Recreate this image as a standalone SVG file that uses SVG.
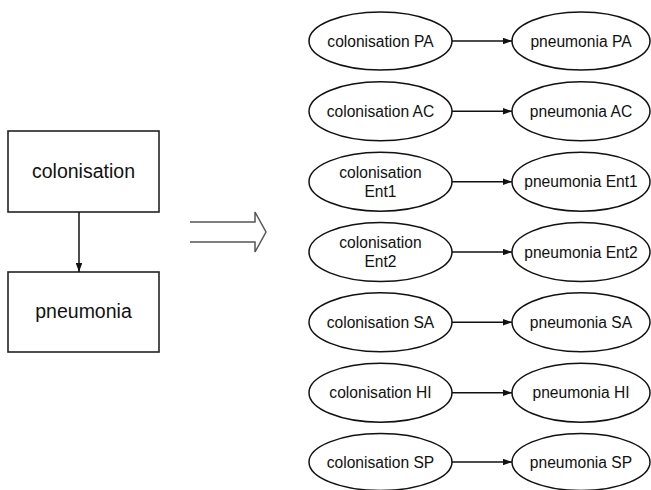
<svg xmlns="http://www.w3.org/2000/svg" width="651" height="490" viewBox="0 0 651 490">
<defs>
<style>
text{font-family:"Liberation Sans",Arial,sans-serif;fill:#111;text-anchor:middle}
.box{fill:#fff;stroke:#222;stroke-width:1.6}
.el{fill:#fff;stroke:#111;stroke-width:1.5}
.big{font-size:19.5px}
.sm{font-size:15.6px}
.con{stroke:#111;stroke-width:1.5;fill:none}
</style>
<marker id="ah" viewBox="0 0 10 10" refX="10" refY="5" markerWidth="9" markerHeight="6.5" markerUnits="userSpaceOnUse" orient="auto" preserveAspectRatio="none">
<path d="M0,0 L10,5 L0,10 Z" fill="#111"/>
</marker>
</defs>
<rect width="651" height="490" fill="#fff"/>
<g id="colonisation">
<rect class="box" x="8" y="131" width="151" height="81"/>
<text class="big" x="83.5" y="178">colonisation</text>
</g>
<g id="pneumonia">
<rect class="box" x="8" y="272" width="151" height="80"/>
<text class="big" x="83.5" y="318">pneumonia</text>
</g>
<g id="implies">
<path d="M190,222 H255 V212 L266,232 L255,252 V242 H190" fill="none" stroke="#555" stroke-width="1.5"/>
</g>
<g id="n-col-PA"><ellipse class="el" cx="380.5" cy="41" rx="71.5" ry="29"/><text class="sm" x="380.5" y="46.5">colonisation PA</text></g>
<g id="n-pne-PA"><ellipse class="el" cx="581" cy="41" rx="69" ry="29"/><text class="sm" x="581" y="46.5">pneumonia PA</text></g>
<g id="n-col-AC"><ellipse class="el" cx="380.5" cy="111.3" rx="71.5" ry="29.5"/><text class="sm" x="380.5" y="116.8">colonisation AC</text></g>
<g id="n-pne-AC"><ellipse class="el" cx="581" cy="111.3" rx="69" ry="29.5"/><text class="sm" x="581" y="116.8">pneumonia AC</text></g>
<g id="n-col-Ent1"><ellipse class="el" cx="380.5" cy="181.7" rx="71.5" ry="29.5"/><text class="sm" x="380.5" y="178">colonisation</text><text class="sm" x="380.5" y="197">Ent1</text></g>
<g id="n-pne-Ent1"><ellipse class="el" cx="581" cy="181.7" rx="69" ry="29.5"/><text class="sm" x="581" y="187.2">pneumonia Ent1</text></g>
<g id="n-col-Ent2"><ellipse class="el" cx="380.5" cy="252" rx="71.5" ry="29.5"/><text class="sm" x="380.5" y="248">colonisation</text><text class="sm" x="380.5" y="267">Ent2</text></g>
<g id="n-pne-Ent2"><ellipse class="el" cx="581" cy="252" rx="69" ry="29.5"/><text class="sm" x="581" y="257.5">pneumonia Ent2</text></g>
<g id="n-col-SA"><ellipse class="el" cx="380.5" cy="322.3" rx="71.5" ry="29.5"/><text class="sm" x="380.5" y="327.8">colonisation SA</text></g>
<g id="n-pne-SA"><ellipse class="el" cx="581" cy="322.3" rx="69" ry="29.5"/><text class="sm" x="581" y="327.8">pneumonia SA</text></g>
<g id="n-col-HI"><ellipse class="el" cx="380.5" cy="392.7" rx="71.5" ry="29.5"/><text class="sm" x="380.5" y="398.2">colonisation HI</text></g>
<g id="n-pne-HI"><ellipse class="el" cx="581" cy="392.7" rx="69" ry="29.5"/><text class="sm" x="581" y="398.2">pneumonia HI</text></g>
<g id="n-col-SP"><ellipse class="el" cx="380.5" cy="462" rx="71.5" ry="28.5"/><text class="sm" x="380.5" y="467.5">colonisation SP</text></g>
<g id="n-pne-SP"><ellipse class="el" cx="581" cy="462" rx="69" ry="28.5"/><text class="sm" x="581" y="467.5">pneumonia SP</text></g>
<g id="connectors">
<line class="con" x1="79" y1="212" x2="79" y2="272" marker-end="url(#ah)"/>
<line class="con" x1="452" y1="41" x2="512" y2="41" marker-end="url(#ah)"/>
<line class="con" x1="452" y1="111.3" x2="512" y2="111.3" marker-end="url(#ah)"/>
<line class="con" x1="452" y1="181.7" x2="512" y2="181.7" marker-end="url(#ah)"/>
<line class="con" x1="452" y1="252" x2="512" y2="252" marker-end="url(#ah)"/>
<line class="con" x1="452" y1="322.3" x2="512" y2="322.3" marker-end="url(#ah)"/>
<line class="con" x1="452" y1="392.7" x2="512" y2="392.7" marker-end="url(#ah)"/>
<line class="con" x1="452" y1="462" x2="512" y2="462" marker-end="url(#ah)"/>
</g>
</svg>
